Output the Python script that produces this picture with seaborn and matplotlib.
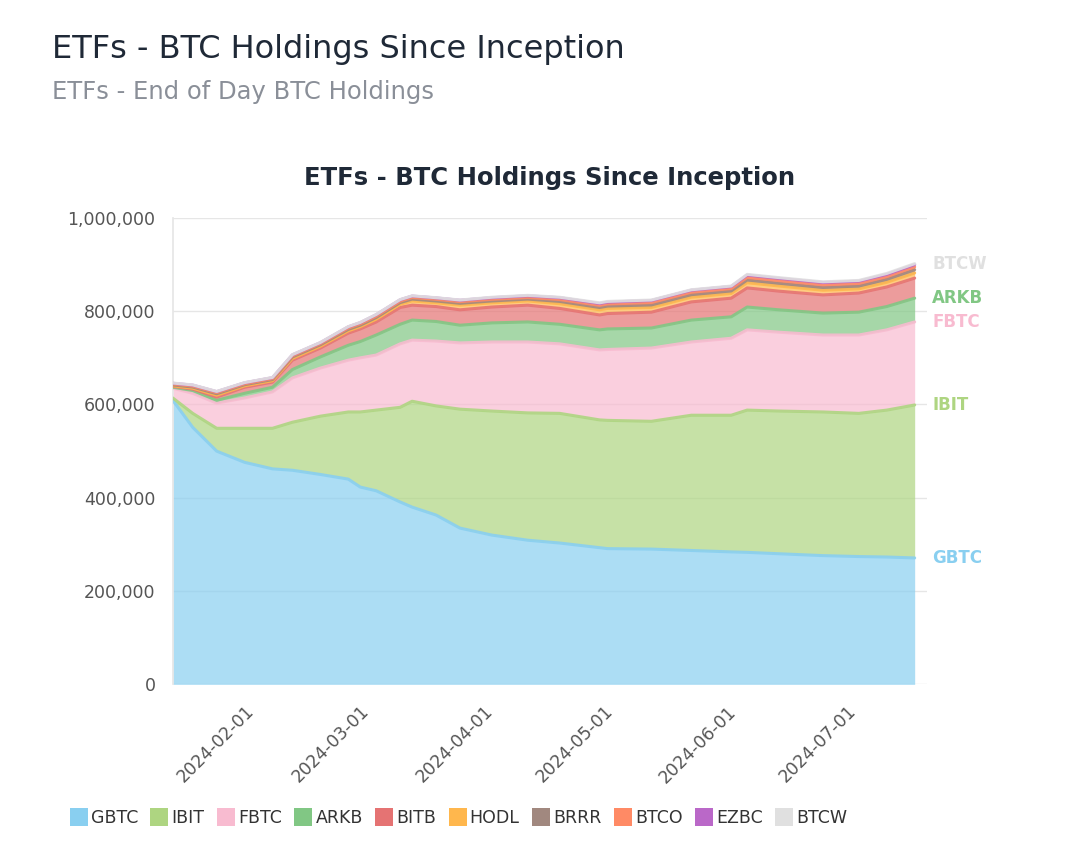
import pandas as pd
import matplotlib
matplotlib.use('Agg')
import matplotlib.pyplot as plt
import matplotlib.dates as mdates
from matplotlib.ticker import FuncFormatter, MultipleLocator
from matplotlib.lines import Line2D
import seaborn as sns

# End of day holdings, thousands of BTC
dates = ['2024-01-14', '2024-01-19', '2024-01-25', '2024-02-01', '2024-02-08', '2024-02-13',
         '2024-02-20', '2024-02-27', '2024-03-01', '2024-03-05', '2024-03-11', '2024-03-14',
         '2024-03-20', '2024-03-26', '2024-04-03', '2024-04-12', '2024-04-20', '2024-04-30',
         '2024-05-02', '2024-05-13', '2024-05-23', '2024-06-02', '2024-06-06', '2024-06-14',
         '2024-06-25', '2024-07-04', '2024-07-11', '2024-07-18']
gbtc = [609, 551, 500, 476, 462, 459, 450, 440, 423, 415, 391, 380, 363, 335, 320, 309, 303, 293,
        291, 290, 287, 284, 283, 280, 276, 274, 273, 271]
ibit = [5, 30, 49, 73, 87, 103, 125, 144, 161, 173, 203, 227, 234, 255, 266, 273, 278, 274,
        275, 274, 290, 293, 305, 306, 308, 307, 315, 328]
fbtc = [21, 43, 54, 65, 78, 95, 103, 111, 116, 118, 136, 131, 139, 142, 148, 152, 149, 150,
        152, 157, 157, 165, 172, 169, 165, 168, 172, 178]
arkb = [2, 6, 6, 10, 10, 18, 24, 32, 35, 43, 42, 43, 42, 38, 41, 43, 42, 43,
        44, 43, 47, 46, 49, 48, 47, 49, 50, 51]
bitb = [2, 3, 7, 13, 11, 20, 19, 26, 27, 28, 36, 32, 32, 33, 34, 36, 34, 32,
        33, 34, 39, 40, 41, 40, 39, 41, 42, 43]
hodl = [1, 2, 4, 3, 3, 4, 4, 5, 5, 6, 7, 9, 8, 10, 9, 9, 10, 11,
        11, 10, 10, 10, 11, 11, 10, 9, 10, 11]
brrr = [2, 2.5, 3, 2.5, 2.5, 3, 3, 3, 3, 3.5, 3.5, 4, 4, 4, 4, 4, 5, 5,
        5, 5.5, 5.5, 5.5, 6, 6, 6, 6, 6.5, 7]
btco = [2, 2, 2.5, 2, 2, 2.5, 2.5, 3, 3, 3, 3, 3.5, 3.5, 3.5, 3.5, 3.5, 4, 4.5,
        4.5, 5, 5, 5, 5.5, 5.5, 5.5, 5.5, 5.5, 6]
ezbc = [1.5, 2, 2, 2, 2, 2, 2, 2.5, 2.5, 3, 3, 3, 3, 3, 3.5, 3.5, 4, 4,
        4, 4.5, 4.5, 4.5, 5, 5, 5, 5, 5, 5]
btcw = [0.5, 0.5, 0.5, 0.5, 0.5, 0.5, 0.5, 0.5, 0.5, 0.5, 0.5, 0.5, 0.5, 0.5, 1, 1, 1, 1.5,
        1.5, 1, 1, 1, 1.5, 1.5, 1.5, 1.5, 2, 2]

tickers = ['GBTC', 'IBIT', 'FBTC', 'ARKB', 'BITB', 'HODL', 'BRRR', 'BTCO', 'EZBC', 'BTCW']
colors = ['#89cff0', '#aed581', '#f8bbd0', '#81c784', '#e57373',
          '#ffb74d', '#a1887f', '#ff8a65', '#ba68c8', '#e0e0e0']
labelled = ['GBTC', 'IBIT', 'FBTC', 'ARKB', 'BTCW']

df = pd.DataFrame({'date': pd.to_datetime(dates)})
for t, vals in zip(tickers, [gbtc, ibit, fbtc, arkb, bitb, hodl, brrr, btco, ezbc, btcw]):
    df[t] = [v * 1000 for v in vals]
df = df.set_index('date')
cum = df.cumsum(axis=1)

sns.set_theme(style='white')
plt.rcParams['font.family'] = ['DejaVu Sans']

fig = plt.figure(figsize=(10.8, 8.48), dpi=100)
ax = fig.add_axes([0.160, 0.193, 0.698, 0.550])

ax.stackplot(df.index, [df[t] for t in tickers], colors=colors, alpha=0.7, linewidth=0)

long = cum.reset_index().melt(id_vars='date', var_name='etf', value_name='btc')
sns.lineplot(data=long, x='date', y='btc', hue='etf', hue_order=tickers,
             palette=dict(zip(tickers, colors)), linewidth=2.2, alpha=0.9,
             legend=False, ax=ax, zorder=3)

ax.set_ylim(0, 1_000_000)
ax.set_xlim(df.index[0], pd.Timestamp('2024-07-21'))
ax.yaxis.set_major_locator(MultipleLocator(200_000))
ax.yaxis.set_major_formatter(FuncFormatter(lambda v, p: f'{int(v):,}'))
ax.xaxis.set_major_locator(mdates.MonthLocator())
ax.xaxis.set_major_formatter(mdates.DateFormatter('%Y-%m-%d'))
plt.setp(ax.get_xticklabels(), rotation=45, ha='right', rotation_mode='anchor')

ax.grid(axis='y', color='#e6e6e6', linewidth=1)
ax.set_axisbelow(True)
for s in ['top', 'right', 'bottom']:
    ax.spines[s].set_visible(False)
ax.spines['left'].set_color('#e6e6e6')
ax.tick_params(axis='both', length=9, width=1, color='#e6e6e6',
               labelsize=12.5, labelcolor='#555555')
ax.tick_params(axis='x', pad=4)
ax.set_xlabel('')
ax.set_ylabel('')

# end labels on the right
last = cum.iloc[-1]
for t, c in zip(tickers, colors):
    if t in labelled:
        ax.annotate(t, xy=(1, last[t]), xycoords=('axes fraction', 'data'),
                    xytext=(4, 0), textcoords='offset points', va='center', ha='left',
                    fontsize=12, fontweight='bold', color=c, annotation_clip=False)

ax.set_title('ETFs - BTC Holdings Since Inception', fontsize=17.5, fontweight='bold',
             color='#1f2937', pad=24)

fig.text(0.048, 0.942, 'ETFs - BTC Holdings Since Inception', fontsize=23,
         color='#1f2937', va='center')
fig.text(0.048, 0.891, 'ETFs - End of Day BTC Holdings', fontsize=17.5,
         color='#8a8f98', va='center')

handles = [Line2D([0], [0], marker='s', linestyle='', markersize=13, markeredgewidth=0,
                  markerfacecolor=c) for c in colors]
fig.legend(handles, tickers, loc='center left', bbox_to_anchor=(0.051, 0.035), ncol=10,
           frameon=False, fontsize=12.5, handlelength=0.9, handletextpad=0.25,
           columnspacing=0.78, labelcolor='#333333')

fig.savefig('out.png', dpi=100)
